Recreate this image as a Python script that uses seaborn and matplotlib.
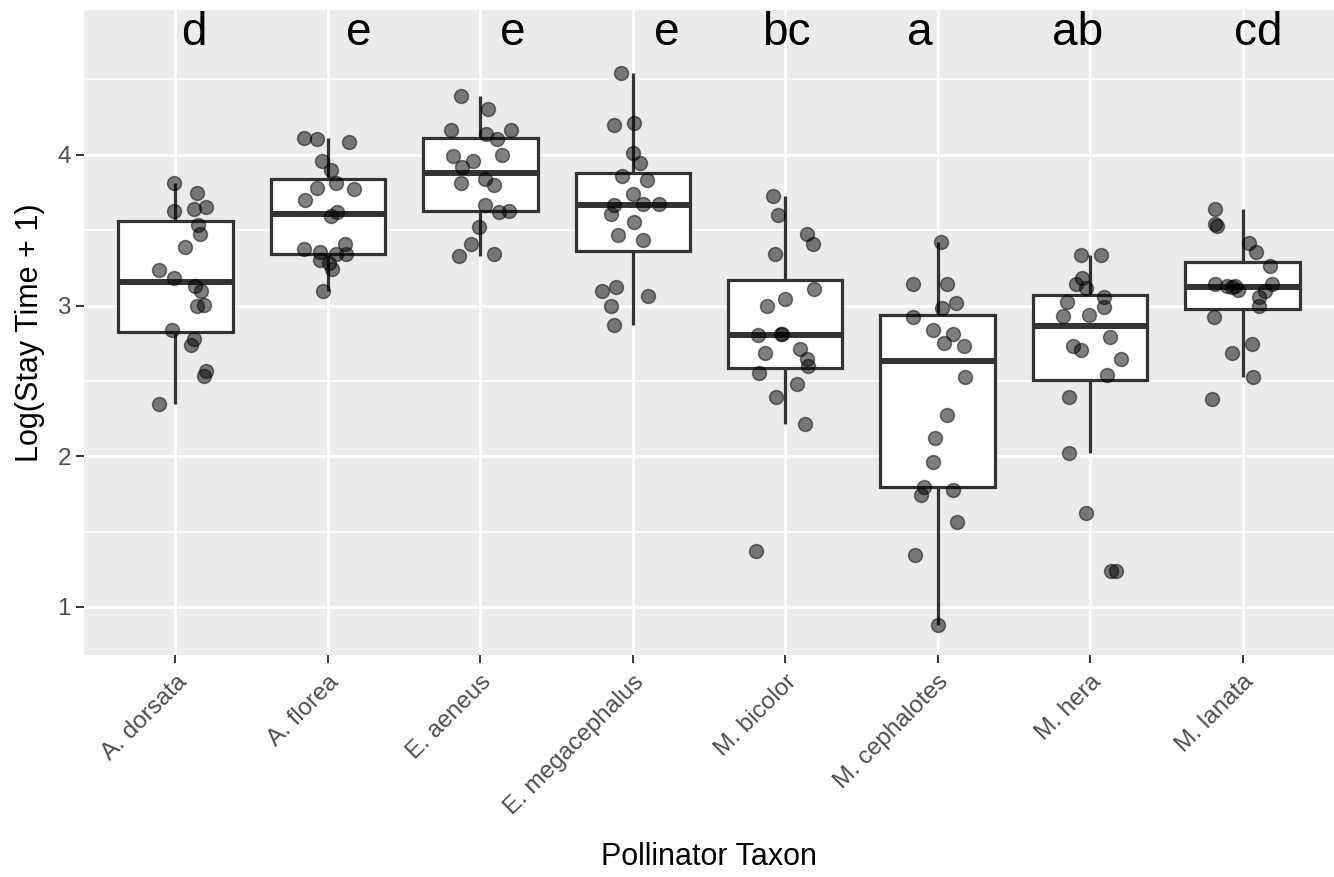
import numpy as np
import pandas as pd
import matplotlib
matplotlib.use("Agg")
import matplotlib.pyplot as plt
from matplotlib.ticker import FixedLocator
import seaborn as sns

plt.rcParams["font.family"] = ["Liberation Sans", "DejaVu Sans"]

taxa = ["A. dorsata", "A. florea", "E. aeneus", "E. megacephalus",
        "M. bicolor", "M. cephalotes", "M. hera", "M. lanata"]
letters = ["d", "e", "e", "e", "bc", "a", "ab", "cd"]
letter_offsets = [0.12, 0.20, 0.21, 0.22, 0.01, -0.12, -0.08, 0.10]
letter_y = 4.73

v_a_dorsata = [3.816, 3.745, 3.630, 3.641, 3.656, 3.535, 3.473, 3.391, 3.236, 3.185,
               3.132, 3.099, 2.997, 3.006, 2.838, 2.776, 2.739, 2.568, 2.535, 2.345]
o_a_dorsata = [-0.01, 0.14, -0.01, 0.12, 0.20, 0.15, 0.16, 0.06, -0.11, -0.01,
               0.13, 0.17, 0.14, 0.19, -0.02, 0.12, 0.10, 0.20, 0.19, -0.11]

v_a_florea = [4.114, 4.105, 4.086, 3.960, 3.900, 3.816, 3.782, 3.772, 3.697, 3.621,
              3.593, 3.374, 3.409, 3.358, 3.342, 3.344, 3.303, 3.285, 3.243, 3.095]
o_a_florea = [-0.16, -0.07, 0.14, -0.04, 0.02, 0.05, -0.07, 0.17, -0.15, 0.06,
              0.02, -0.16, 0.11, -0.05, 0.05, 0.12, -0.05, 0.01, 0.03, -0.03]

v_e_aeneus = [4.391, 4.302, 4.167, 4.139, 4.103, 4.165, 3.991, 3.960, 3.997, 3.920,
              3.838, 3.800, 3.816, 3.670, 3.619, 3.630, 3.522, 3.409, 3.329, 3.342]
o_e_aeneus = [-0.13, 0.05, -0.19, 0.04, 0.11, 0.20, -0.18, -0.05, 0.14, -0.12,
              0.03, 0.09, -0.13, 0.03, 0.12, 0.19, -0.01, -0.06, -0.14, 0.09]

v_e_megacephalus = [4.541, 4.198, 4.212, 4.015, 3.944, 3.858, 3.833, 3.743, 3.668, 3.672,
                    3.672, 3.608, 3.557, 3.471, 3.438, 3.121, 3.097, 3.064, 2.995, 2.869]
o_e_megacephalus = [-0.08, -0.12, 0.01, 0.00, 0.05, -0.07, 0.09, 0.00, -0.12, 0.07,
                    0.17, -0.14, 0.01, -0.10, 0.07, -0.11, -0.20, 0.10, -0.14, -0.12]

v_m_bicolor = [3.725, 3.599, 3.473, 3.407, 3.341, 3.110, 3.042, 3.000, 2.803, 2.814,
               2.810, 2.685, 2.712, 2.644, 2.599, 2.555, 2.480, 2.396, 2.212, 1.372]
o_m_bicolor = [-0.08, -0.05, 0.14, 0.18, -0.07, 0.19, 0.00, -0.12, -0.18, -0.03,
               -0.02, -0.13, 0.10, 0.14, 0.15, -0.17, 0.08, -0.06, 0.13, -0.19]

v_m_cephalotes = [3.422, 3.141, 3.141, 3.015, 2.982, 2.926, 2.838, 2.812, 2.750, 2.734,
                  2.528, 2.274, 2.119, 1.964, 1.798, 1.743, 1.776, 1.562, 1.345, 0.881]
o_m_cephalotes = [0.02, -0.16, 0.06, 0.12, 0.03, -0.16, -0.03, 0.10, 0.04, 0.17,
                  0.18, 0.06, -0.02, -0.03, -0.09, -0.11, 0.10, 0.13, -0.15, 0.00]

v_m_hera = [3.338, 3.336, 3.181, 3.141, 3.115, 3.055, 3.026, 2.989, 2.933, 2.938,
            2.790, 2.732, 2.703, 2.644, 2.540, 2.392, 2.020, 1.622, 1.239, 1.239]
o_m_hera = [-0.06, 0.07, -0.05, -0.09, -0.03, 0.09, -0.15, 0.09, -0.18, -0.01,
            0.13, -0.11, -0.06, 0.20, 0.11, -0.14, -0.14, -0.03, 0.14, 0.17]

v_m_lanata = [3.643, 3.539, 3.530, 3.413, 3.354, 3.265, 3.143, 3.130, 3.132, 3.121,
              3.104, 3.143, 3.097, 3.055, 2.997, 2.926, 2.745, 2.688, 2.528, 2.378]
o_m_lanata = [-0.18, -0.18, -0.17, 0.04, 0.09, 0.18, -0.18, -0.10, -0.05, -0.07,
              -0.03, 0.19, 0.15, 0.11, 0.11, -0.19, 0.06, -0.07, 0.07, -0.20]

values = [v_a_dorsata, v_a_florea, v_e_aeneus, v_e_megacephalus,
          v_m_bicolor, v_m_cephalotes, v_m_hera, v_m_lanata]
offsets = [o_a_dorsata, o_a_florea, o_e_aeneus, o_e_megacephalus,
           o_m_bicolor, o_m_cephalotes, o_m_hera, o_m_lanata]

rows = []
for i, (t, vs, os_) in enumerate(zip(taxa, values, offsets)):
    for v, o in zip(vs, os_):
        rows.append({"taxon": t, "value": v, "code": i, "offset": o})
df = pd.DataFrame(rows)
df["xpos"] = df["code"] + df["offset"]

W, H = 1334, 877
fig = plt.figure(figsize=(W / 100, H / 100), dpi=100)
left, right, top, bottom = 84, 1334, 10, 655
ax = fig.add_axes([left / W, 1 - bottom / H, (right - left) / W, (bottom - top) / H])
ax.set_facecolor("#EBEBEB")
ax.set_axisbelow(True)

line_col = "#333333"
sns.boxplot(data=df, x="taxon", y="value", order=taxa, width=0.75,
            color="white", linecolor=line_col, linewidth=2.3, saturation=1,
            showfliers=False, showcaps=False, whis=1.5,
            medianprops={"linewidth": 4.3, "color": line_col, "solid_capstyle": "butt"},
            ax=ax)
for p in ax.patches:
    p.set_zorder(2)
for l in ax.lines:
    l.set_zorder(2.1)

sns.scatterplot(data=df, x="xpos", y="value", color="black", alpha=0.5,
                s=100, edgecolor="black", linewidth=1.1, legend=False, ax=ax, zorder=3)

for i, (lab, off) in enumerate(zip(letters, letter_offsets)):
    ax.text(i + off, letter_y, lab, ha="center", va="baseline",
            fontsize=33, color="black", zorder=4)

ax.set_xlim(-0.6, len(taxa) - 1 + 0.6)
ax.set_ylim(0.681, 4.961)

ax.xaxis.set_major_locator(FixedLocator(range(len(taxa))))
ax.set_xticklabels(taxa, rotation=45, ha="right", rotation_mode="anchor",
                   fontsize=17.5, color="#4D4D4D")
ax.yaxis.set_major_locator(FixedLocator([1, 2, 3, 4]))
ax.yaxis.set_minor_locator(FixedLocator([1.5, 2.5, 3.5, 4.5]))
ax.set_yticklabels(["1", "2", "3", "4"], fontsize=17.5, color="#4D4D4D")

ax.grid(which="major", color="white", linewidth=2.2)
ax.grid(which="minor", axis="y", color="white", linewidth=1.1)
ax.grid(which="minor", axis="x", visible=False)
ax.tick_params(axis="both", which="major", length=5.5, width=1.4, color=line_col, pad=4)
ax.tick_params(axis="x", which="major", pad=6)
ax.tick_params(axis="both", which="minor", length=0)
for s in ax.spines.values():
    s.set_visible(False)
ax.set_xlabel("")
ax.set_ylabel("")

fig.text(709 / W, 1 - 857 / H, "Pollinator Taxon", ha="center", va="center",
         fontsize=22, color="black")
fig.text(30 / W, 1 - 333 / H, "Log(Stay Time + 1)", ha="center", va="center",
         rotation=90, fontsize=22, color="black")

fig.savefig("out.png", dpi=100)
